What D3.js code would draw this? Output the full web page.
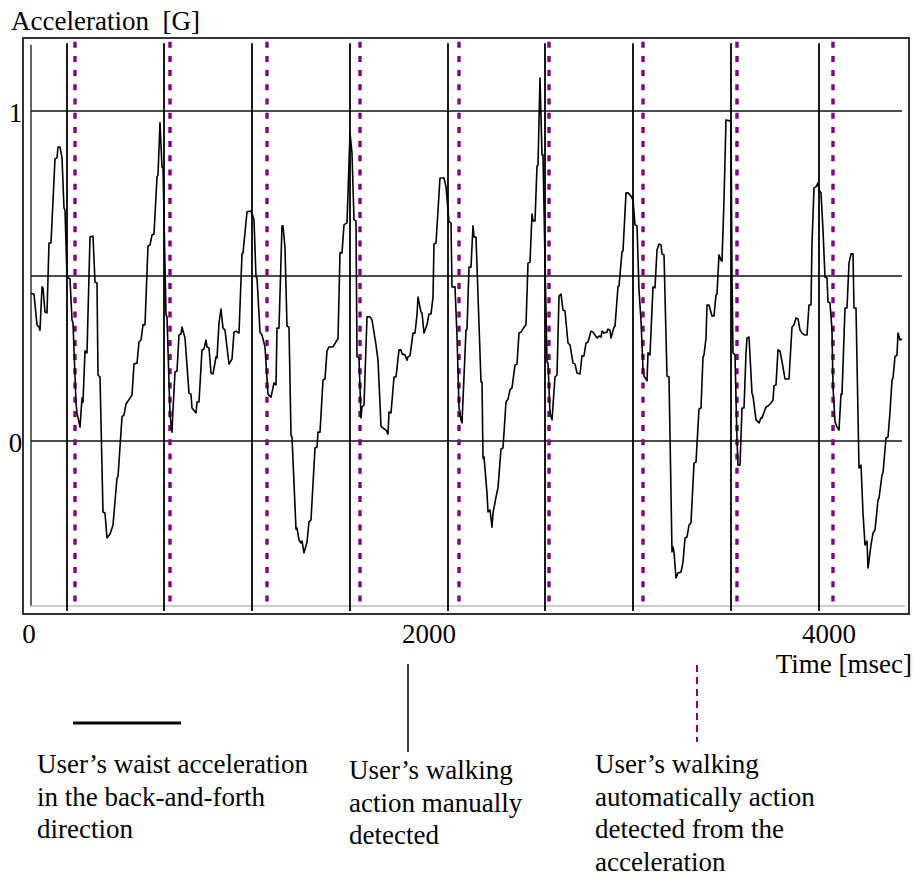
<!DOCTYPE html>
<html lang="en">
<head>
  <meta charset="UTF-8">
  <title>Waist acceleration and detected steps</title>
  <script src="https://d3js.org/d3.v7.min.js"></script>
  <style>
    body { margin: 0; background: #fff; }
    text {
      font-family: "Liberation Serif", "Times New Roman", serif;
      font-size: 27px;
      fill: #000;
    }
    .frame { fill: none; stroke: #333; stroke-width: 2px; }
    .grid { stroke: #111; stroke-width: 1.3px; }
    .accel { fill: none; stroke: #000; stroke-width: 1.6px; stroke-linejoin: round; }
    .manual { stroke: #000; stroke-width: 1.8px; }
    .auto { stroke: #800080; stroke-width: 3.4px; stroke-dasharray: 6 8.2; }
  </style>
</head>
<body>
  <svg width="914" height="877"></svg>
  <script>
    // waist acceleration, [time ms, G]
    var waist = [
      [10,0.448],[25,0.445],[40,0.352],[50,0.345],[55,0.336],[65,0.467],[70,0.464],[80,0.391],[90,0.388],[100,0.600],
      [110,0.600],[130,0.855],[140,0.858],[145,0.891],[155,0.891],[165,0.858],[175,0.706],[180,0.700],[190,0.497],[205,0.491],
      [215,0.367],[220,0.358],[235,0.115],[240,0.085],[255,0.042],[265,0.130],[270,0.118],[280,0.273],[290,0.267],[305,0.618],
      [320,0.621],[330,0.482],[340,0.479],[345,0.200],[355,0.194],[370,-0.215],[380,-0.218],[390,-0.294],[405,-0.282],[420,-0.255],
      [440,-0.112],[445,-0.109],[465,0.073],[475,0.079],[485,0.112],[505,0.130],[515,0.139],[525,0.233],[540,0.236],[550,0.300],
      [560,0.306],[570,0.352],[580,0.352],[595,0.591],[605,0.594],[615,0.624],[625,0.627],[640,0.800],[645,0.806],[655,0.964],
      [665,0.830],[670,0.830],[685,0.382],[690,0.376],[705,0.079],[715,0.027],[720,0.094],[730,0.209],[740,0.212],[750,0.321],
      [760,0.324],[765,0.345],[780,0.312],[800,0.145],[810,0.142],[815,0.100],[835,0.085],[840,0.118],[850,0.118],[865,0.276],
      [875,0.279],[885,0.306],[890,0.285],[900,0.282],[910,0.206],[920,0.203],[935,0.255],[940,0.252],[950,0.358],[960,0.400],
      [970,0.342],[980,0.336],[1000,0.233],[1015,0.248],[1025,0.330],[1035,0.333],[1050,0.327],[1065,0.567],[1070,0.570],[1090,0.694],
      [1105,0.697],[1115,0.691],[1125,0.670],[1135,0.497],[1140,0.494],[1155,0.330],[1165,0.321],[1180,0.285],[1195,0.142],[1210,0.133],
      [1225,0.176],[1235,0.170],[1240,0.342],[1250,0.342],[1265,0.652],[1270,0.652],[1280,0.585],[1290,0.348],[1300,0.345],[1310,0.018],
      [1315,0.012],[1335,-0.267],[1340,-0.264],[1350,-0.300],[1360,-0.309],[1365,-0.303],[1375,-0.339],[1390,-0.306],[1400,-0.245],[1410,-0.239],
      [1430,-0.021],[1440,-0.018],[1445,0.027],[1455,0.027],[1470,0.185],[1480,0.188],[1490,0.273],[1500,0.285],[1520,0.285],[1540,0.306],
      [1545,0.309],[1555,0.570],[1565,0.570],[1575,0.655],[1590,0.661],[1605,0.933],[1615,0.873],[1625,0.670],[1635,0.667],[1640,0.255],
      [1650,0.252],[1660,0.070],[1665,0.103],[1675,0.109],[1690,0.376],[1705,0.376],[1715,0.367],[1735,0.291],[1745,0.245],[1760,0.045],
      [1770,0.039],[1785,0.033],[1795,0.021],[1800,0.088],[1810,0.085],[1825,0.194],[1835,0.194],[1850,0.276],[1860,0.276],[1865,0.264],
      [1880,0.261],[1890,0.245],[1895,0.255],[1905,0.258],[1920,0.327],[1930,0.327],[1940,0.382],[1945,0.436],[1960,0.391],[1965,0.388],
      [1975,0.327],[1990,0.352],[2000,0.385],[2010,0.385],[2020,0.436],[2025,0.597],[2035,0.600],[2055,0.797],[2075,0.797],[2085,0.770],
      [2100,0.664],[2110,0.661],[2115,0.467],[2130,0.467],[2140,0.318],[2150,0.103],[2160,0.064],[2165,0.055],[2185,0.336],[2190,0.339],
      [2200,0.527],[2210,0.527],[2220,0.652],[2225,0.618],[2235,0.618],[2260,0.179],[2265,0.179],[2270,-0.052],[2275,-0.048],[2290,-0.158],
      [2295,-0.215],[2305,-0.209],[2315,-0.261],[2320,-0.218],[2340,-0.155],[2345,-0.142],[2360,-0.024],[2370,-0.021],[2385,0.118],[2395,0.127],
      [2405,0.155],[2415,0.161],[2430,0.230],[2440,0.233],[2450,0.327],[2460,0.330],[2475,0.345],[2485,0.352],[2495,0.539],[2505,0.542],
      [2515,0.688],[2520,0.667],[2530,0.667],[2540,0.833],[2545,0.836],[2555,1.100],[2565,0.867],[2570,0.867],[2580,0.548],[2590,0.239],
      [2595,0.236],[2605,0.085],[2615,0.064],[2630,0.194],[2640,0.200],[2650,0.439],[2660,0.445],[2670,0.397],[2680,0.394],[2695,0.297],
      [2705,0.291],[2720,0.236],[2730,0.233],[2740,0.206],[2755,0.203],[2765,0.258],[2775,0.258],[2785,0.297],[2795,0.300],[2810,0.333],
      [2820,0.330],[2840,0.312],[2850,0.318],[2860,0.315],[2865,0.333],[2875,0.327],[2890,0.330],[2895,0.339],[2905,0.336],[2910,0.312],
      [2925,0.345],[2930,0.348],[2945,0.467],[2950,0.470],[2965,0.573],[2970,0.576],[2985,0.752],[2995,0.752],[3010,0.742],[3020,0.730],
      [3030,0.655],[3040,0.652],[3050,0.458],[3060,0.364],[3070,0.218],[3075,0.197],[3090,0.182],[3095,0.267],[3105,0.261],[3120,0.467],
      [3130,0.464],[3140,0.579],[3150,0.597],[3160,0.594],[3165,0.567],[3175,0.564],[3190,0.197],[3200,0.194],[3215,-0.336],[3220,-0.321],
      [3225,-0.336],[3235,-0.415],[3245,-0.400],[3260,-0.397],[3270,-0.367],[3280,-0.294],[3290,-0.291],[3300,-0.255],[3310,-0.248],[3325,-0.067],
      [3335,-0.064],[3350,0.097],[3360,0.100],[3370,0.255],[3375,0.261],[3385,0.312],[3390,0.412],[3400,0.412],[3415,0.379],[3425,0.379],
      [3435,0.442],[3440,0.445],[3450,0.564],[3460,0.548],[3465,0.545],[3475,0.730],[3485,0.973],[3505,0.970],[3510,0.967],[3515,0.497],
      [3520,0.267],[3530,0.261],[3540,0.003],[3545,-0.073],[3555,-0.073],[3565,0.100],[3575,0.100],[3585,0.267],[3590,0.312],[3600,0.315],
      [3615,0.145],[3620,0.136],[3635,0.064],[3645,0.058],[3650,0.055],[3660,0.070],[3665,0.070],[3685,0.103],[3695,0.106],[3710,0.115],
      [3720,0.124],[3725,0.167],[3735,0.170],[3745,0.276],[3755,0.273],[3770,0.224],[3780,0.188],[3800,0.188],[3815,0.345],[3825,0.352],
      [3835,0.373],[3845,0.370],[3855,0.336],[3865,0.327],[3880,0.321],[3890,0.321],[3900,0.412],[3910,0.412],[3915,0.600],[3925,0.767],
      [3935,0.770],[3945,0.782],[3950,0.761],[3960,0.752],[3970,0.639],[3980,0.497],[3990,0.494],[3995,0.421],[4005,0.418],[4015,0.336],
      [4020,0.164],[4030,0.058],[4040,0.042],[4050,0.033],[4060,0.142],[4065,0.142],[4080,0.403],[4090,0.403],[4100,0.539],[4110,0.567],
      [4120,0.567],[4125,0.403],[4135,0.403],[4150,-0.082],[4160,-0.073],[4170,-0.218],[4180,-0.315],[4190,-0.303],[4195,-0.385],[4210,-0.315],
      [4220,-0.279],[4230,-0.270],[4245,-0.179],[4250,-0.173],[4265,-0.103],[4270,-0.097],[4285,0.009],[4295,0.012],[4305,0.088],[4315,0.185],
      [4320,0.191],[4330,0.255],[4340,0.261],[4345,0.327],[4355,0.306],[4365,0.309]
    ];

    // steps: marked by hand / found from the signal (ms)
    var manualSteps = [190, 675, 1115, 1605, 2095, 2580, 3020, 3510, 3950];
    var autoSteps = [230, 705, 1190, 1655, 2150, 2600, 3070, 3540, 4020];

    var xTicks = [0, 2000, 4000];
    var yTicks = [0, 1];
    var gridLevels = [0, 0.5, 1];

    var legendTexts = [
      ["User’s waist acceleration", "in the back-and-forth", "direction"],
      ["User’s walking", "action manually", "detected"],
      ["User’s walking", "automatically action", "detected from the", "acceleration"]
    ];

    var svg = d3.select("svg");

    var x = d3.scaleLinear().domain([0, 4000]).range([29, 829]),
        y = d3.scaleLinear().domain([-0.5, 1.2]).range([606, 45]);

    var tExt = d3.extent(waist, function(d) { return d[0]; });

    // outer frame
    svg.append("rect")
       .attr("class", "frame")
       .attr("x", 23).attr("y", 38)
       .attr("width", 886).attr("height", 576);

    // left axis + bottom base line
    svg.append("line")
       .attr("x1", x(tExt[0])).attr("x2", x(tExt[0]))
       .attr("y1", y(1.2)).attr("y2", y(-0.5))
       .style("stroke", "#333").style("stroke-width", 1.5);
    svg.append("line")
       .attr("x1", x(tExt[0])).attr("x2", x(4380))
       .attr("y1", y(-0.5)).attr("y2", y(-0.5))
       .style("stroke", "#bbb").style("stroke-width", 1.5);

    // horizontal grid
    svg.selectAll(".grid")
       .data(gridLevels)
       .enter().append("line")
       .attr("class", "grid")
       .attr("x1", x(tExt[0])).attr("x2", x(tExt[1]))
       .attr("y1", function(d) { return y(d); })
       .attr("y2", function(d) { return y(d); });

    // step markers
    svg.selectAll(".manual")
       .data(manualSteps)
       .enter().append("line")
       .attr("class", "manual")
       .attr("x1", function(d) { return x(d); })
       .attr("x2", function(d) { return x(d); })
       .attr("y1", y(1.205)).attr("y2", y(-0.515));

    svg.selectAll(".auto")
       .data(autoSteps)
       .enter().append("line")
       .attr("class", "auto")
       .attr("x1", function(d) { return x(d); })
       .attr("x2", function(d) { return x(d); })
       .attr("y1", y(1.21)).attr("y2", y(-0.51));

    // acceleration trace
    svg.append("path")
       .datum(waist)
       .attr("class", "accel")
       .attr("d", d3.line()
         .x(function(d) { return x(d[0]); })
         .y(function(d) { return y(d[1]); })
       );

    // tick labels
    svg.selectAll(".ylab")
       .data(yTicks)
       .enter().append("text")
       .attr("class", "ylab")
       .attr("x", 15.5)
       .attr("y", function(d) { return y(d) + 11; })
       .attr("text-anchor", "middle")
       .text(function(d) { return d; });

    svg.selectAll(".xlab")
       .data(xTicks)
       .enter().append("text")
       .attr("class", "xlab")
       .attr("x", function(d) { return x(d); })
       .attr("y", y(-0.5) + 37)
       .attr("text-anchor", "middle")
       .text(function(d) { return d; });

    svg.append("text")
       .attr("x", 11).attr("y", 30)
       .style("white-space", "pre")
       .text("Acceleration  [G]");

    svg.append("text")
       .attr("x", 912).attr("y", 673)
       .attr("text-anchor", "end")
       .text("Time [msec]");

    // legend
    svg.append("line")
       .attr("x1", 73).attr("x2", 181).attr("y1", 723).attr("y2", 723)
       .style("stroke", "#000").style("stroke-width", 3);
    svg.append("line")
       .attr("x1", 408).attr("x2", 408).attr("y1", 664).attr("y2", 752)
       .style("stroke", "#000").style("stroke-width", 1.5);
    svg.append("line")
       .attr("x1", 697).attr("x2", 697).attr("y1", 665).attr("y2", 742)
       .style("stroke", "#800080").style("stroke-width", 2)
       .style("stroke-dasharray", "7 5");

    var legendPos = [[37, 773], [349, 779], [595, 773]];
    legendTexts.forEach(function(lines, i) {
      svg.append("text")
         .attr("x", legendPos[i][0]).attr("y", legendPos[i][1])
         .selectAll("tspan")
         .data(lines)
         .enter().append("tspan")
         .attr("x", legendPos[i][0])
         .attr("dy", function(d, j) { return j === 0 ? 0 : 32.7; })
         .text(function(d) { return d; });
    });
  </script>
</body>
</html>
